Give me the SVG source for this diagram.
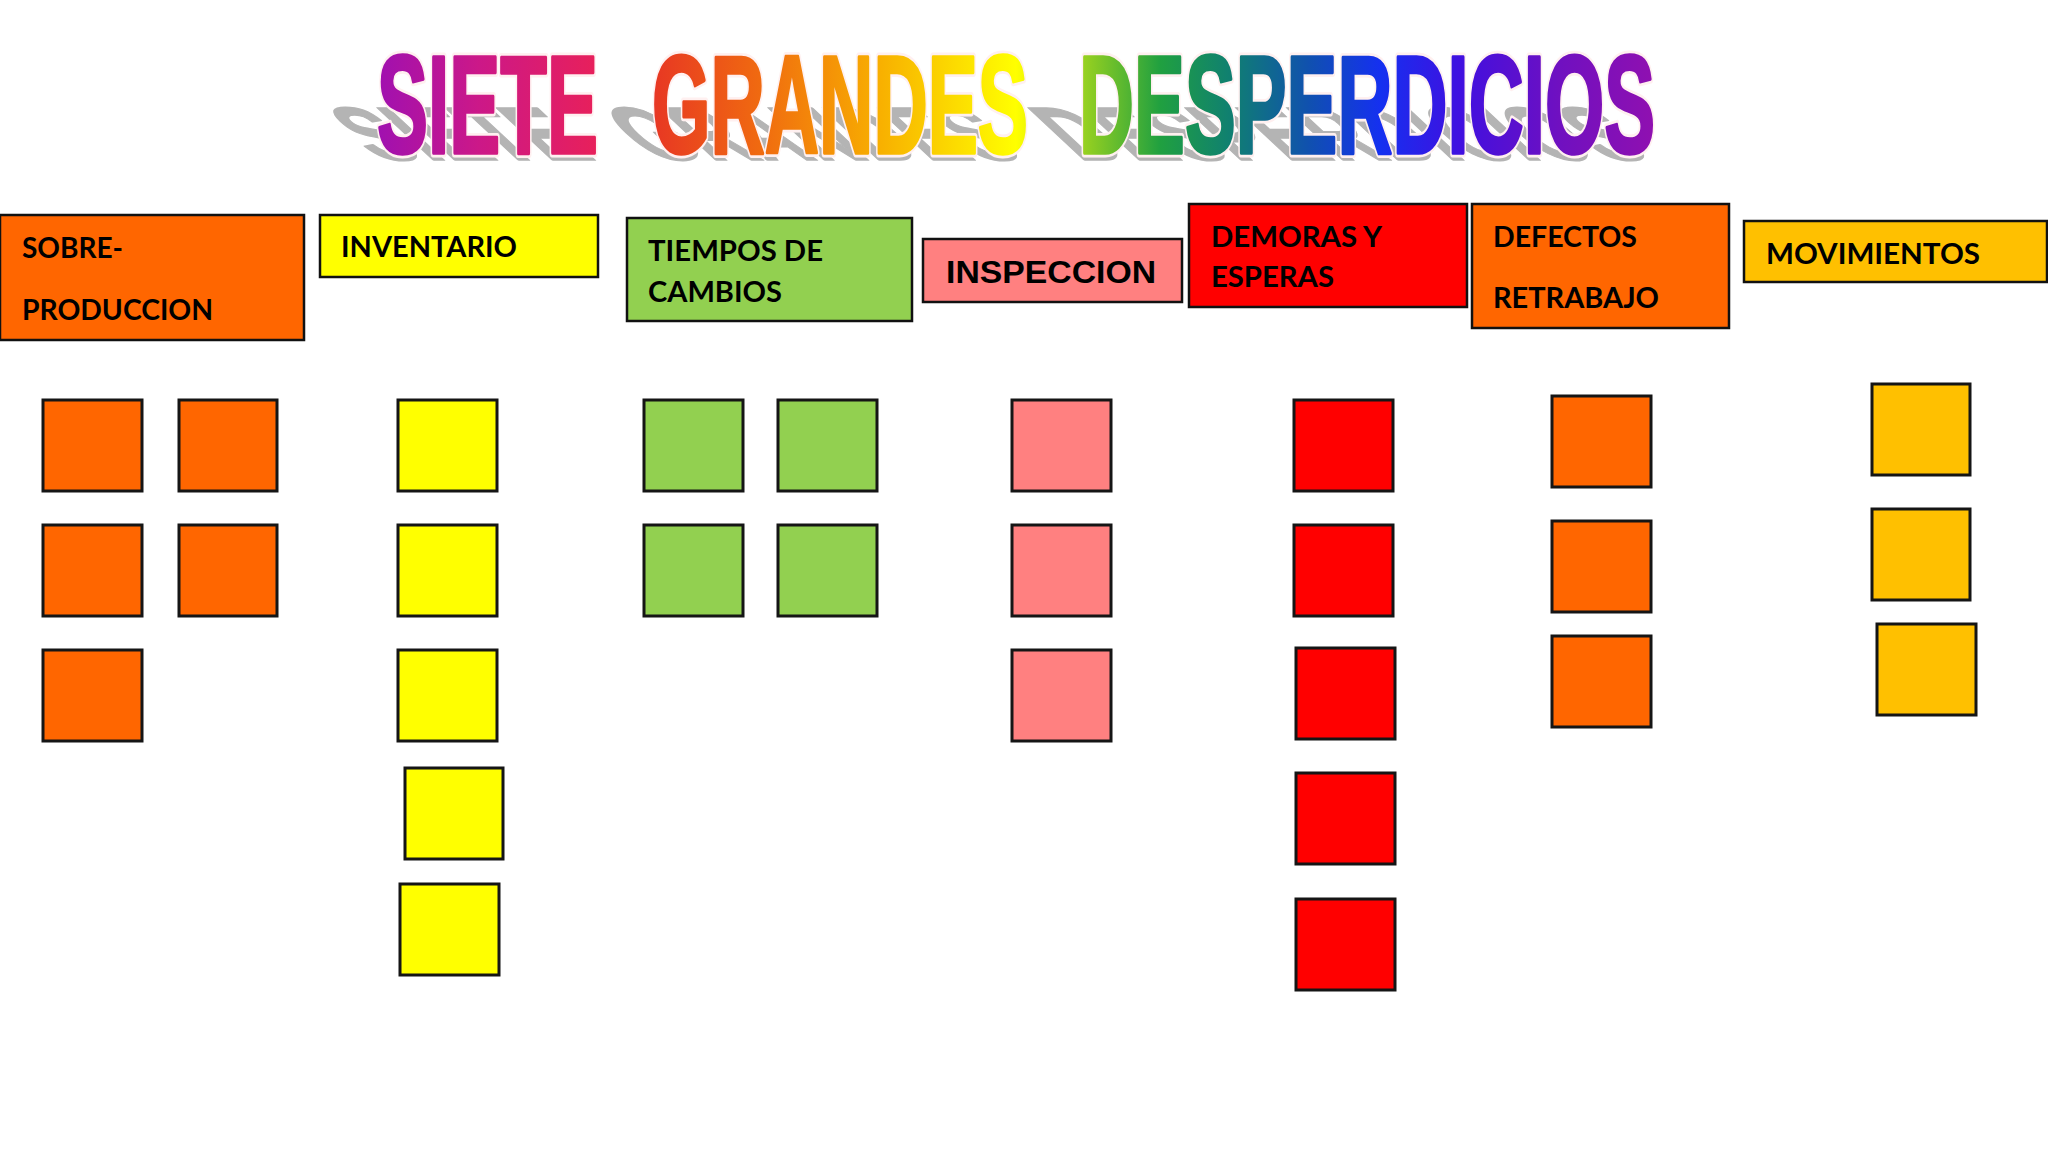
<svg xmlns="http://www.w3.org/2000/svg" xmlns:xlink="http://www.w3.org/1999/xlink" width="2048" height="1152" viewBox="0 0 2048 1152">
<defs>
<linearGradient id="rainbow" gradientUnits="userSpaceOnUse" x1="377" y1="0" x2="1655" y2="0">
<stop offset="0" stop-color="#A010B0"/>
<stop offset="0.08" stop-color="#CC1888"/>
<stop offset="0.173" stop-color="#E8205A"/>
<stop offset="0.221" stop-color="#E83A22"/>
<stop offset="0.30" stop-color="#F06A10"/>
<stop offset="0.394" stop-color="#F8B000"/>
<stop offset="0.50" stop-color="#FFFF00"/>
<stop offset="0.554" stop-color="#96D020"/>
<stop offset="0.613" stop-color="#20A040"/>
<stop offset="0.667" stop-color="#108070"/>
<stop offset="0.73" stop-color="#1050B0"/>
<stop offset="0.785" stop-color="#1530F0"/>
<stop offset="0.847" stop-color="#4010E0"/>
<stop offset="0.926" stop-color="#7010C0"/>
<stop offset="1" stop-color="#9010B0"/>
</linearGradient>
<g id="titleText" font-family="'Liberation Sans', Arial, sans-serif" font-weight="bold" font-size="140">
<text x="377" y="153" textLength="221" lengthAdjust="spacingAndGlyphs">SIETE</text>
<text x="652" y="153" textLength="376" lengthAdjust="spacingAndGlyphs">GRANDES</text>
<text x="1079" y="153" textLength="576" lengthAdjust="spacingAndGlyphs">DESPERDICIOS</text>
</g>
<style>
.sh-out{fill:#FFFFFF;stroke:#FFFFFF;stroke-width:7;stroke-linejoin:round}
.sh-in{fill:#B4B4B4;stroke:#B4B4B4;stroke-width:3;stroke-linejoin:round}
.t-out{fill:#FFF4F4;stroke:#FFF0F0;stroke-width:9;stroke-linejoin:round}
.t-in{fill:url(#rainbow);stroke:url(#rainbow);stroke-width:3.5;stroke-linejoin:round}
.hdr{stroke:#111;stroke-width:2.5}
.sq{stroke:#151515;stroke-width:3}
.lbl{font-family:Lato,"Open Sans",sans-serif;font-weight:bold;font-size:29px;fill:#000}
.lbl2{font-family:"Liberation Sans",Arial,sans-serif;font-weight:bold;font-size:32px;fill:#000}
.orange{fill:#FF6600}
.yellow{fill:#FFFF00}
.green{fill:#92D050}
.pink{fill:#FF8080}
.red{fill:#FF0000}
.amber{fill:#FFC000}
</style>
</defs>
<rect width="2048" height="1152" fill="#FFFFFF"/>

<g id="title">
<g transform="translate(0,160) skewX(47) scale(1,0.54) translate(0,-153)">
<use xlink:href="#titleText" href="#titleText" class="sh-out"/>
<use xlink:href="#titleText" href="#titleText" class="sh-in"/>
</g>
<use xlink:href="#titleText" href="#titleText" class="t-out"/>
<use xlink:href="#titleText" href="#titleText" class="t-in"/>
</g>

<g id="connectors"></g>

<g id="sobreproduccion">
<rect class="hdr orange" x="0" y="215" width="304" height="125"/>
<text class="lbl" x="22" y="258" textLength="101" lengthAdjust="spacingAndGlyphs">SOBRE-</text>
<text class="lbl" x="22" y="320" textLength="191" lengthAdjust="spacingAndGlyphs">PRODUCCION</text>
<rect class="sq orange" x="43" y="400" width="99" height="91"/>
<rect class="sq orange" x="179" y="400" width="98" height="91"/>
<rect class="sq orange" x="43" y="525" width="99" height="91"/>
<rect class="sq orange" x="179" y="525" width="98" height="91"/>
<rect class="sq orange" x="43" y="650" width="99" height="91"/>
</g>

<g id="inventario">
<rect class="hdr yellow" x="320" y="215" width="278" height="62"/>
<text class="lbl" x="341" y="257" textLength="176" lengthAdjust="spacingAndGlyphs">INVENTARIO</text>
<rect class="sq yellow" x="398" y="400" width="99" height="91"/>
<rect class="sq yellow" x="398" y="525" width="99" height="91"/>
<rect class="sq yellow" x="398" y="650" width="99" height="91"/>
<rect class="sq yellow" x="405" y="768" width="98" height="91"/>
<rect class="sq yellow" x="400" y="884" width="99" height="91"/>
</g>

<g id="tiempos-de-cambios">
<rect class="hdr green" x="627" y="218" width="285" height="103"/>
<text class="lbl" x="648" y="261" textLength="175" lengthAdjust="spacingAndGlyphs">TIEMPOS DE</text>
<text class="lbl" x="648" y="302" textLength="134" lengthAdjust="spacingAndGlyphs">CAMBIOS</text>
<rect class="sq green" x="644" y="400" width="99" height="91"/>
<rect class="sq green" x="778" y="400" width="99" height="91"/>
<rect class="sq green" x="644" y="525" width="99" height="91"/>
<rect class="sq green" x="778" y="525" width="99" height="91"/>
</g>

<g id="inspeccion">
<rect class="hdr pink" x="923" y="239" width="259" height="63"/>
<text class="lbl2" x="946" y="283" textLength="210" lengthAdjust="spacingAndGlyphs">INSPECCION</text>
<rect class="sq pink" x="1012" y="400" width="99" height="91"/>
<rect class="sq pink" x="1012" y="525" width="99" height="91"/>
<rect class="sq pink" x="1012" y="650" width="99" height="91"/>
</g>

<g id="demoras-y-esperas">
<rect class="hdr red" x="1189" y="204" width="278" height="103"/>
<text class="lbl" x="1211" y="247" textLength="171" lengthAdjust="spacingAndGlyphs">DEMORAS Y</text>
<text class="lbl" x="1211" y="287" textLength="123" lengthAdjust="spacingAndGlyphs">ESPERAS</text>
<rect class="sq red" x="1294" y="400" width="99" height="91"/>
<rect class="sq red" x="1294" y="525" width="99" height="91"/>
<rect class="sq red" x="1296" y="648" width="99" height="91"/>
<rect class="sq red" x="1296" y="773" width="99" height="91"/>
<rect class="sq red" x="1296" y="899" width="99" height="91"/>
</g>

<g id="defectos-retrabajo">
<rect class="hdr orange" x="1472" y="204" width="257" height="124"/>
<text class="lbl" x="1493" y="247" textLength="144" lengthAdjust="spacingAndGlyphs">DEFECTOS</text>
<text class="lbl" x="1493" y="308" textLength="166" lengthAdjust="spacingAndGlyphs">RETRABAJO</text>
<rect class="sq orange" x="1552" y="396" width="99" height="91"/>
<rect class="sq orange" x="1552" y="521" width="99" height="91"/>
<rect class="sq orange" x="1552" y="636" width="99" height="91"/>
</g>

<g id="movimientos">
<rect class="hdr amber" x="1744" y="221" width="303" height="61"/>
<text class="lbl" x="1766" y="264" textLength="214" lengthAdjust="spacingAndGlyphs">MOVIMIENTOS</text>
<rect class="sq amber" x="1872" y="384" width="98" height="91"/>
<rect class="sq amber" x="1872" y="509" width="98" height="91"/>
<rect class="sq amber" x="1877" y="624" width="99" height="91"/>
</g>
</svg>
